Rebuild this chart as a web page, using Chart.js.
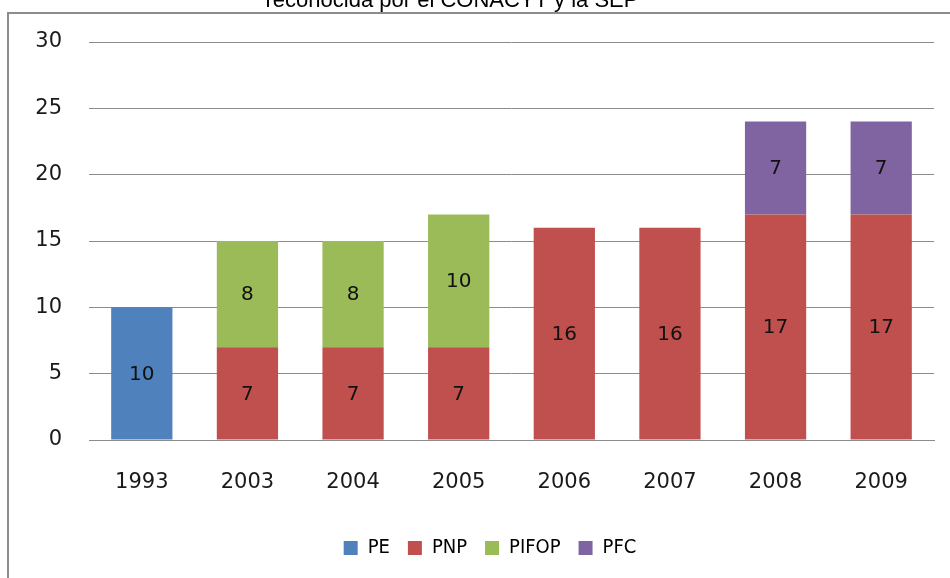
<!DOCTYPE html>
<html>
<head>
<meta charset="utf-8">
<script src="https://cdn.jsdelivr.net/npm/chart.js@4.4.1/dist/chart.umd.min.js"></script>
<style>
  html, body { margin: 0; padding: 0; background: #ffffff; }
  #wrap { position: relative; width: 950px; height: 578px; }
  canvas { display: block; }
</style>
</head>
<body>
<div id="wrap"><canvas id="c" width="950" height="578"></canvas></div>
<script>
const titleText = 'reconocida por el CONACYT y la SEP';
const categories = ['1993', '2003', '2004', '2005', '2006', '2007', '2008', '2009'];
const seriesNames = ['PE', 'PNP', 'PIFOP', 'PFC'];
const valuesPE    = [10, null, null, null, null, null, null, null];
const valuesPNP   = [null, 7, 7, 7, 16, 16, 17, 17];
const valuesPIFOP = [null, 8, 8, 10, null, null, null, null];
const valuesPFC   = [null, null, null, null, null, null, 7, 7];
const yTicks = [0, 5, 10, 15, 20, 25, 30];
const colors = ['#4F81BD', '#C0504D', '#9BBB59', '#8064A2'];

const tickFont = { family: 'DejaVu Sans', size: 21 };

const framePlugin = {
  id: 'frame',
  beforeDraw(chart) {
    const ctx = chart.ctx;
    ctx.save();
    ctx.strokeStyle = '#8c8c8c';
    ctx.lineWidth = 2;
    ctx.beginPath();
    ctx.moveTo(950, 13);
    ctx.lineTo(8, 13);
    ctx.lineTo(8, 578);
    ctx.stroke();
    ctx.fillStyle = '#000000';
    ctx.font = '22px "Liberation Sans", Arial, sans-serif';
    ctx.textAlign = 'center';
    ctx.textBaseline = 'alphabetic';
    ctx.fillText(titleText, 452, 7);
    ctx.restore();
  },
  afterLayout(chart) {
    if (chart.legend) {
      chart.legend.top -= 10; chart.legend.bottom -= 10;
      chart.legend.left += 8; chart.legend.right += 8;
    }
  }
};

const labelPlugin = {
  id: 'segLabels',
  afterDatasetsDraw(chart) {
    const ctx = chart.ctx;
    ctx.save();
    ctx.font = '20px "DejaVu Sans"';
    ctx.fillStyle = '#111111';
    ctx.textAlign = 'center';
    ctx.textBaseline = 'middle';
    chart.data.datasets.forEach((ds, di) => {
      const meta = chart.getDatasetMeta(di);
      meta.data.forEach((el, i) => {
        const v = ds.data[i];
        if (v === null || v === undefined) return;
        ctx.fillText(String(v), el.x, (el.y + el.base) / 2 + 1);
      });
    });
    ctx.restore();
  }
};

const seriesData = [valuesPE, valuesPNP, valuesPIFOP, valuesPFC];

new Chart(document.getElementById('c'), {
  type: 'bar',
  data: {
    labels: categories,
    datasets: seriesNames.map((name, k) => ({
      label: name,
      data: seriesData[k],
      backgroundColor: colors[k],
      borderWidth: 0,
      categoryPercentage: 1.0,
      barPercentage: 0.58
    }))
  },
  options: {
    responsive: false,
    animation: false,
    layout: { padding: { top: 42, left: 30, right: 16, bottom: 0 } },
    plugins: {
      legend: {
        position: 'bottom',
        labels: {
          boxWidth: 14,
          boxHeight: 14,
          padding: 18,
          color: '#000000',
          font: { family: '"Liberation Sans Narrow", "DejaVu Sans Condensed", "Liberation Sans"', size: 20 }
        }
      },
      tooltip: { enabled: false },
      title: { display: false }
    },
    scales: {
      x: {
        stacked: true,
        grid: { display: false, drawTicks: false },
        border: { display: true, color: '#8c8c8c', width: 1 },
        ticks: { color: '#1a1a1a', font: tickFont, padding: 30, maxRotation: 0 },
        afterFit(scale) { scale.height = 90; }
      },
      y: {
        stacked: true,
        min: 0,
        max: 30,
        afterBuildTicks(scale) { scale.ticks = yTicks.map(v => ({ value: v })); },
        grid: { color: '#8c8c8c', lineWidth: 1, drawTicks: false },
        border: { display: false },
        ticks: { color: '#1a1a1a', font: tickFont, padding: 27 },
        afterFit(scale) { scale.width = 59; }
      }
    }
  },
  plugins: [framePlugin, labelPlugin]
});
</script>
</body>
</html>
